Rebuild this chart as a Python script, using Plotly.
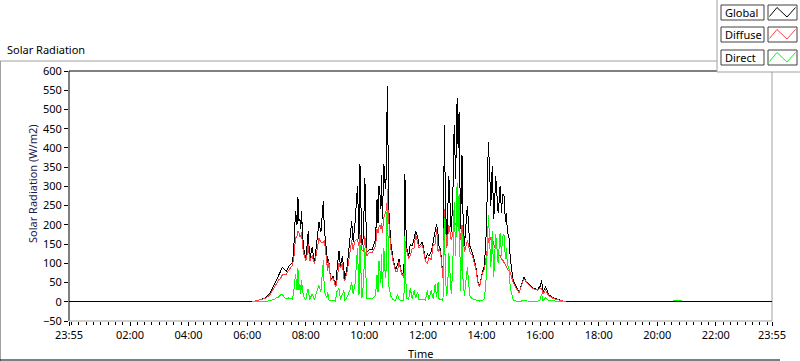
import plotly.graph_objects as go

# ---------------- data ----------------
day_times = ["06:10","06:20","06:30","06:38","06:47","06:55","07:00","07:05","07:08","07:12",
             "07:16","07:20","07:25","07:30","07:33","07:36","07:39","07:42","07:44","07:46",
             "07:48","07:50","07:51","07:55","08:00","08:03","08:05","08:08","08:13","08:18",
             "08:22","08:27","08:31","08:36","08:38","08:43","08:45","08:47","08:51","08:56","09:01","09:03",
             "09:08","09:11","09:15","09:18","09:20","09:25","09:31","09:34","09:37","09:41","09:46",
             "09:49","09:51","09:55","09:58","10:01","10:05","10:10","10:16","10:23","10:26",
             "10:28","10:30","10:32","10:34","10:35","10:37","10:38","10:40","10:43","10:45",
             "10:47","10:50","10:54","10:59","11:04","11:08","11:11","11:16","11:21","11:23",
             "11:26","11:31","11:34","11:38","11:42","11:45","11:49","11:52","11:59","12:05","12:09","12:12","12:17",
             "12:21","12:25","12:28","12:31","12:33","12:36","12:41","12:44","12:46","12:49","12:51","12:53",
             "12:58","13:01","13:04","13:07","13:10","13:12","13:14","13:17","13:20","13:22",
             "13:25","13:31","13:36","13:41","13:48","13:53","13:56","14:02","14:06","14:10",
             "14:12","14:14","14:17","14:19","14:22","14:25","14:27","14:29","14:31","14:34",
             "14:36","14:38","14:41","14:43","14:46","14:49","14:51","14:53","14:56","14:59",
             "15:05","15:10","15:17","15:22","15:27","15:34","15:44","15:54","16:00","16:03",
             "16:06","16:11","16:18","16:28","16:42","16:52"]

global_vals = [0,3,7,10,22,44,55,71,78,89,
               84,79,92,98,102,155,237,200,272,210,
               215,190,237,145,110,150,184,110,141,102,
               155,207,181,263,189,119,100,110,58,66,40,70,
               132,93,119,85,58,93,162,210,155,207,302,
               162,359,145,170,321,128,136,136,162,267,
               205,300,280,240,330,215,270,359,293,330,
               560,241,155,110,84,95,110,76,66,333,
               145,119,150,145,165,184,170,145,155,110,125,119,130,
               155,185,202,175,145,136,66,459,260,155,220,328,
               181,260,459,320,529,400,494,189,381,230,
               145,250,145,128,93,49,40,79,93,189,
               300,416,328,250,354,215,260,328,290,232,
               260,302,230,280,276,207,230,181,171,110,
               55,40,23,45,63,49,37,31,40,56,
               23,40,18,10,5,0]

diffuse_vals = [0,3,6,9,19,36,45,58,60,70,
                72,72,82,90,95,120,165,170,185,180,
                170,170,180,130,105,125,150,105,120,98,
                130,165,155,155,160,110,80,105,55,62,38,45,
                100,88,100,60,55,80,130,160,135,160,162,
                145,175,135,130,170,120,128,128,145,190,
                180,195,200,190,205,180,200,220,230,240,
                265,200,140,105,80,80,104,73,63,160,
                135,112,120,138,140,175,150,140,148,106,100,114,110,
                148,150,190,130,138,130,63,240,200,140,170,200,
                160,175,200,200,215,215,210,160,200,170,
                130,160,130,120,88,47,38,75,85,120,
                150,160,170,160,165,150,140,150,140,130,
                120,120,110,110,100,95,90,85,80,75,
                50,38,22,43,60,47,35,30,35,35,
                20,30,15,8,4,0]

direct_vals = [0,0,1,1,3,6,10,13,18,19,
               12,7,10,8,7,35,72,30,87,30,
               45,20,57,15,5,25,34,5,21,4,
               25,42,26,108,29,9,25,5,3,4,2,25,
               35,5,19,30,3,13,32,50,20,47,140,
               17,150,10,45,140,8,8,8,17,70,
               25,105,80,50,125,35,70,139,63,90,
               293,41,15,5,4,20,6,3,3,170,
               10,7,35,7,30,9,25,5,7,4,30,5,30,
               7,45,12,50,7,6,3,219,60,15,50,128,
               21,85,259,120,310,185,280,29,181,60,
               15,90,15,8,5,2,2,4,8,69,
               150,225,150,90,185,65,120,175,150,100,
               140,180,120,170,175,110,140,95,90,35,
               5,2,1,2,3,2,2,1,5,21,
               3,10,3,2,1,0]

assert len(day_times) == len(global_vals) == len(diffuse_vals) == len(direct_vals)

# Global is zero through the night: first and last samples of the day axis
night_times = ["2024-01-01 23:55", "2024-01-02 23:55"]
night_vals = [0, 0]

# small Direct blip in the evening
blip_times = ["20:33", "20:51"]
blip_vals = [3, 3]

x_tick_vals = ["2024-01-01 23:55", "2024-01-02 02:00", "2024-01-02 04:00", "2024-01-02 06:00",
               "2024-01-02 08:00", "2024-01-02 10:00", "2024-01-02 12:00", "2024-01-02 14:00",
               "2024-01-02 16:00", "2024-01-02 18:00", "2024-01-02 20:00", "2024-01-02 22:00",
               "2024-01-02 23:55"]
x_tick_text = ["23:55", "02:00", "04:00", "06:00", "08:00", "10:00", "12:00", "14:00",
               "16:00", "18:00", "20:00", "22:00", "23:55"]

# ---------------- figure ----------------
day = "2024-01-02 "
dt_day = [day + t for t in day_times]
g_x = [night_times[0]] + dt_day + [night_times[1]]
g_y = [night_vals[0]] + global_vals + [night_vals[1]]

FONT = "Noto Sans"
W, H = 800, 361
L, R, T, B = 69, 772, 71, 321


def px(x):
    return (x - L) / (R - L)


def py(y):
    return (B - y) / (B - T)


fig = go.Figure()
fig.add_trace(go.Scatter(x=g_x, y=g_y, mode="lines", name="Global",
                         line=dict(color="#000000", width=1)))
fig.add_trace(go.Scatter(x=dt_day, y=diffuse_vals, mode="lines", name="Diffuse",
                         line=dict(color="#ff3c3c", width=1)))
fig.add_trace(go.Scatter(x=dt_day, y=direct_vals, mode="lines", name="Direct",
                         line=dict(color="#00ff00", width=1)))
fig.add_trace(go.Scatter(x=[day + t for t in blip_times], y=blip_vals, mode="lines",
                         showlegend=False, line=dict(color="#00ff00", width=1)))

shapes = []
# outer frame
shapes.append(dict(type="line", xref="paper", yref="paper", x0=px(0), x1=px(717), y0=py(61), y1=py(61),
                   line=dict(color="#a0a0a0", width=1), layer="below"))
shapes.append(dict(type="line", xref="paper", yref="paper", x0=px(0.5), x1=px(0.5), y0=py(61), y1=py(361),
                   line=dict(color="#a0a0a0", width=1), layer="below"))
shapes.append(dict(type="line", xref="paper", yref="paper", x0=px(0), x1=px(780), y0=py(360), y1=py(360),
                   line=dict(color="#000000", width=1), layer="below"))
# plot area border
shapes.append(dict(type="line", xref="paper", yref="paper", x0=0, x1=1, y0=1, y1=1,
                   line=dict(color="#000000", width=1), layer="below"))
shapes.append(dict(type="line", xref="paper", yref="paper", x0=0, x1=0, y0=0, y1=1,
                   line=dict(color="#000000", width=1), layer="below"))
shapes.append(dict(type="line", xref="paper", yref="paper", x0=0, x1=1, y0=0, y1=0,
                   line=dict(color="#a0a0a0", width=1), layer="below"))
shapes.append(dict(type="line", xref="paper", yref="paper", x0=1, x1=1, y0=0, y1=1,
                   line=dict(color="#a0a0a0", width=1), layer="below"))
# legend panel
shapes.append(dict(type="rect", xref="paper", yref="paper", x0=px(717), x1=px(802), y0=py(-2), y1=py(72),
                   fillcolor="white", line=dict(color="#a0a0a0", width=1), layer="above"))

annotations = []
legend_items = [("Global", "#000000", 5), ("Diffuse", "#ff3c3c", 27), ("Direct", "#00ff00", 50)]
for name, color, top in legend_items:
    bot = top + 15
    shapes.append(dict(type="rect", xref="paper", yref="paper", x0=px(721), x1=px(764), y0=py(bot), y1=py(top),
                       fillcolor="white", line=dict(color="#404040", width=1), layer="above"))
    shapes.append(dict(type="rect", xref="paper", yref="paper", x0=px(768), x1=px(797), y0=py(bot), y1=py(top),
                       fillcolor="white", line=dict(color="#404040", width=1), layer="above"))
    pts = [(769.5, top + 11.5), (777, top + 2.5), (787, top + 12), (795.5, top + 2.5)]
    path = "M " + " L ".join(f"{px(a):.5f},{py(b):.5f}" for a, b in pts)
    shapes.append(dict(type="path", xref="paper", yref="paper", path=path,
                       line=dict(color=color, width=1), layer="above"))
    annotations.append(dict(text=name, xref="paper", yref="paper", x=px(723), y=py(top + 7.5),
                            xanchor="left", yanchor="middle", showarrow=False,
                            font=dict(family=FONT, size=11, color="#000000")))

annotations.append(dict(text="Solar Radiation", xref="paper", yref="paper", x=px(5), y=py(50),
                        xanchor="left", yanchor="middle", showarrow=False,
                        font=dict(family=FONT, size=11, color="#000000")))
annotations.append(dict(text="Solar Radiation (W/m2)", xref="paper", yref="paper", x=px(32), y=py(184),
                        xanchor="center", yanchor="middle", textangle=-90, showarrow=False,
                        font=dict(family=FONT, size=11, color="#1c1c50")))
annotations.append(dict(text="Time", xref="paper", yref="paper", x=px(420), y=py(353),
                        xanchor="center", yanchor="middle", showarrow=False,
                        font=dict(family=FONT, size=11, color="#000000")))

fig.update_layout(
    width=W, height=H,
    margin=dict(l=L, r=W - R, t=T, b=H - B),
    paper_bgcolor="white", plot_bgcolor="white",
    showlegend=False,
    shapes=shapes, annotations=annotations,
    font=dict(family=FONT, size=11, color="#000000"),
)
fig.update_xaxes(
    type="date", range=[night_times[0], night_times[1]],
    tickmode="array", tickvals=x_tick_vals, ticktext=x_tick_text,
    ticks="outside", ticklen=4, tickcolor="#000000", tickwidth=1,
    showgrid=False, zeroline=False, showline=False,
    tickfont=dict(family=FONT, size=11, color="#000000"),
    minor=dict(ticks="outside", ticklen=3, tickcolor="#000000", tickwidth=1,
               dtick=15 * 60 * 1000, tick0="2024-01-02 00:00", showgrid=False),
)
fig.update_yaxes(
    range=[-50, 600], tick0=0, dtick=50,
    ticks="outside", ticklen=4, tickcolor="#000000", tickwidth=1,
    showgrid=False, zeroline=False, showline=False,
    tickfont=dict(family=FONT, size=11, color="#000000"),
)

fig.write_html(
    "out.html",
    config={"displayModeBar": False},
    post_script=(
        "document.body.style.margin='0';document.body.style.padding='0';"
        "document.body.style.overflow='hidden';"
        "document.querySelectorAll('.scatterlayer path.js-line').forEach(function(p){"
        "p.style.shapeRendering='crispEdges';});"
    ),
)
